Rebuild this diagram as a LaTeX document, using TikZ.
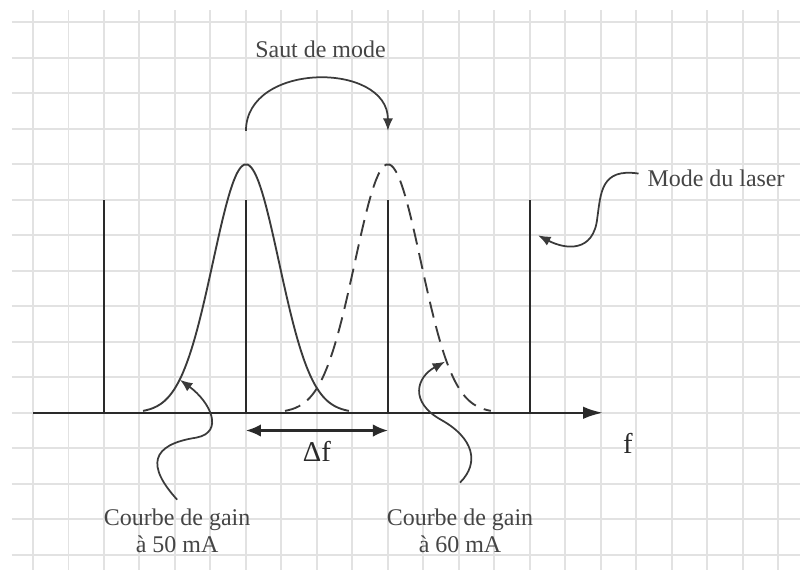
\documentclass[tikz,border=0pt]{standalone}
\usepackage{fontspec}
\setmainfont{Liberation Serif}
\usetikzlibrary{arrows.meta, positioning}
\definecolor{gridgray}{HTML}{E2E2E2}
\definecolor{inkdark}{HTML}{2A2A2A}
\definecolor{curvegray}{HTML}{3A3A3A}
\definecolor{textgray}{HTML}{454545}

\begin{document}
\begin{tikzpicture}[
      x=0.5cm, y=0.5cm,
      gridline/.style={draw=gridgray, line width=0.8pt},
      modeline/.style={draw=inkdark, line width=1pt},
      gaincurve/.style={draw=curvegray, line width=0.75pt, smooth, samples=60},
      pointer/.style={draw=curvegray, line width=0.7pt,
        -{Latex[length=5pt, width=4pt]}},
      lbl/.style={text=textgray, font=\fontsize{9.6}{11}\selectfont,
        align=center},
      axlbl/.style={text=inkdark, font=\fontsize{11.5}{13}\selectfont},
      >=Latex
    ]
      \useasboundingbox (-0.93,-4.42) rectangle (21.61,11.63);
      % grid paper
      \foreach \y in {-4,...,11}
        \draw[gridline] (-0.6,\y) -- (21.61,\y);
      \foreach \x in {0,...,21}
        \draw[gridline] (\x,-4.42) -- (\x,11.35);
      % frequency axis and laser modes
      \coordinate (origin) at (0,0);
      \coordinate (axisend) at (16.06,0);
      \draw[draw=inkdark, line width=1pt,
        -{Latex[length=8pt, width=5pt]}] (origin) -- (axisend);
      \foreach \m [count=\i] in {2,6,10,14}
        \draw[modeline] (\m,0) coordinate (mb\i) -- (\m,6) coordinate (mt\i);
      % gain curves
      \draw[gaincurve] plot[domain=3.1:8.9]
        (\x,{7*exp(-(\x-6)^2/1.73)});
      \draw[gaincurve, dash pattern=on 6.5pt off 3.5pt] plot[domain=7.1:12.9]
        (\x,{7*exp(-(\x-10)^2/1.73)});
      % spacing between modes
      \coordinate (df1) at (6,-0.5);
      \coordinate (df2) at (10,-0.5);
      \draw[draw=inkdark, line width=0.9pt,
        {Latex[length=6pt, width=5pt]}-{Latex[length=6pt, width=5pt]}]
        (df1) -- (df2);
      \node[axlbl] (dflbl) at (8,-1.1) {Δf};
      \node[axlbl] (flbl) at (16.76,-0.85) {f};
      % mode hop
      \node[lbl] (saut) at (8.1,10.23) {Saut de mode};
      \coordinate (jumpstart) at (6,7.94);
      \coordinate (jumpend) at (10,7.94);
      \draw[pointer] (jumpstart) .. controls (6,9.9) and (10,9.9) .. (jumpend);
      % annotations
      \node[lbl, anchor=west, inner sep=0pt] (modelbl) at (17.3,6.62)
        {Mode du laser};
      \coordinate (modetip) at (14.23,5.0);
      \draw[pointer] ([xshift=-1.2mm, yshift=0.6mm]modelbl.west)
        .. controls (16.0,6.9) and (16.0,6.2) .. (15.9,5.5)
        .. controls (15.8,4.5) and (15.0,4.6) .. (modetip);
      \node[lbl] (gain50) at (4.06,-3.32) {Courbe de gain\\à 50 mA};
      \coordinate (tip50) at (4.14,0.93);
      \draw[pointer] (gain50.north)
        .. controls (3.2,-1.5) and (3.3,-0.9) .. (4.6,-0.7)
        .. controls (5.4,-0.55) and (5.0,0.3) .. (tip50);
      \node[lbl] (gain60) at (12.03,-3.32) {Courbe de gain\\à 60 mA};
      \coordinate (tip60) at (11.61,1.44);
      \draw[pointer] ([yshift=2.4mm]gain60.north)
        .. controls (12.6,-1.4) and (12.4,-0.7) .. (11.5,-0.2)
        .. controls (10.6,0.3) and (10.8,1.0) .. (tip60);
    \end{tikzpicture}
\end{document}
